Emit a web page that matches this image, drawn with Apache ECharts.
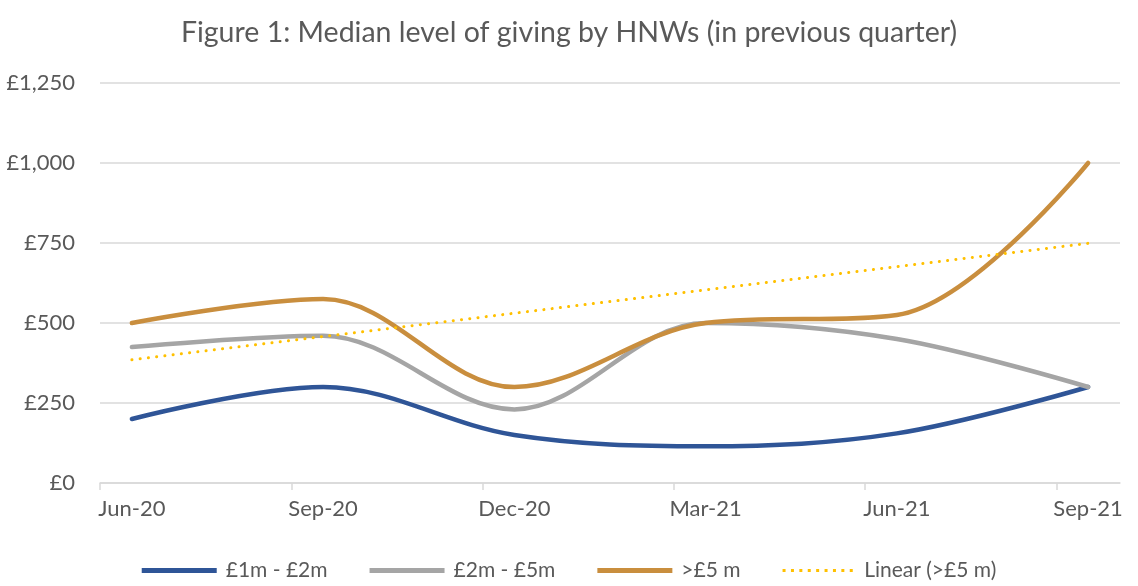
<!DOCTYPE html>
<html>
<head>
<meta charset="utf-8">
<script src="https://cdn.jsdelivr.net/npm/echarts@6/dist/echarts.min.js"></script>
<style>
html,body{margin:0;padding:0;background:#fff;}
#chart{width:1138px;height:586px;}
</style>
</head>
<body>
<div id="chart"></div>
<script>
// Quarter categories (each spans 3 months on a monthly date axis)
const categories = ['Jun-20', 'Sep-20', 'Dec-20', 'Mar-21', 'Jun-21', 'Sep-21'];
const seriesNames = ['£1m - £2m', '£2m - £5m', '>£5 m', 'Linear (>£5 m)'];
const band1to2 = [200, 300, 150, 115, 155, 300];
const band2to5 = [425, 460, 230, 500, 450, 300];
const bandOver5 = [500, 575, 300, 500, 525, 1000];
// Trendline values read at first and last quarter
const trendEnds = [385, 749];
const yTicks = [0, 250, 500, 750, 1000, 1250];

const FONT = 'Lato';
const TXT = '#595959';
const COLORS = ['#2F5597', '#A5A5A5', '#C98E3E', '#FFC000'];
// monthly axis: each quarter point sits in the middle of its month slot
const monthsPerStep = 3;
const xOf = i => i * monthsPerStep + 0.5;
const pairs = arr => arr.map((v, i) => [xOf(i), v]);

// legend icons: solid bar and dotted row (bbox 75 x 5)
const solidIcon = 'path://M0,0 L75,0 L75,5 L0,5 Z';
let dots = 'path://M0,0 L0.01,0 L0,0.01 Z M0,5 L0.01,5 L0,4.99 Z';
for (let k = 0; k < 9; k++) {
  const cx = 1.5 + k * 8.4;
  dots += ' M' + (cx - 1.5) + ',1 L' + (cx + 1.5) + ',1 L' + (cx + 1.5) + ',4 L' + (cx - 1.5) + ',4 Z';
}

const chart = echarts.init(document.getElementById('chart'), null, {renderer: 'canvas'});
const lineBase = (name, color, data) => ({
  name, type: 'line', data, smooth: 0.35, symbol: 'none',
  lineStyle: {color, width: 4.5, cap: 'round', join: 'round'},
  itemStyle: {color},
  emphasis: {disabled: true}
});
chart.setOption({
  animation: false,
  backgroundColor: '#fff',
  title: {
    text: 'Figure 1: Median level of giving by HNWs (in previous quarter)',
    left: 'center', top: 13,
    textStyle: {fontFamily: FONT, fontSize: 28.5, fontWeight: 'normal', color: TXT}
  },
  grid: {left: 100, right: 18, top: 83, bottom: 103, containLabel: false},
  legend: {
    bottom: 0, left: 'center',
    itemWidth: 75, itemHeight: 5, itemGap: 42,
    textStyle: {fontFamily: FONT, fontSize: 21, color: TXT, padding: [0, 0, 0, 4]},
    data: [
      {name: seriesNames[0], icon: solidIcon, itemStyle: {color: COLORS[0]}},
      {name: seriesNames[1], icon: solidIcon, itemStyle: {color: COLORS[1]}},
      {name: seriesNames[2], icon: solidIcon, itemStyle: {color: COLORS[2]}},
      {name: seriesNames[3], icon: dots, itemStyle: {color: COLORS[3]}}
    ]
  },
  xAxis: {
    type: 'value', min: 0, max: 16,
    axisLine: {show: true, lineStyle: {color: '#d9d9d9', width: 1.5}},
    axisTick: {show: true, length: 7, lineStyle: {color: '#d9d9d9', width: 1.5},
      customValues: categories.map((c, i) => i * monthsPerStep)},
    axisLabel: {
      customValues: categories.map((c, i) => xOf(i)),
      formatter: v => categories[Math.round((v - 0.5) / monthsPerStep)] || '',
      fontFamily: FONT, fontSize: 22, color: TXT, margin: 15
    },
    splitLine: {show: false}
  },
  yAxis: {
    type: 'value', min: yTicks[0], max: yTicks[yTicks.length - 1], interval: 250,
    axisLine: {show: false}, axisTick: {show: false},
    axisLabel: {
      formatter: v => '£' + v.toLocaleString('en-GB'),
      fontFamily: FONT, fontSize: 22, color: TXT, margin: 25
    },
    splitLine: {lineStyle: {color: '#d9d9d9', width: 1.5}}
  },
  series: [
    lineBase(seriesNames[0], COLORS[0], pairs(band1to2)),
    lineBase(seriesNames[1], COLORS[1], pairs(band2to5)),
    lineBase(seriesNames[2], COLORS[2], pairs(bandOver5)),
    {
      name: seriesNames[3], type: 'line', symbol: 'none', smooth: false,
      data: [[xOf(0), trendEnds[0]], [xOf(categories.length - 1), trendEnds[1]]],
      lineStyle: {color: COLORS[3], width: 3, type: [0.1, 8.2], cap: 'round'},
      itemStyle: {color: COLORS[3]},
      emphasis: {disabled: true}
    }
  ]
});
</script>
</body>
</html>
